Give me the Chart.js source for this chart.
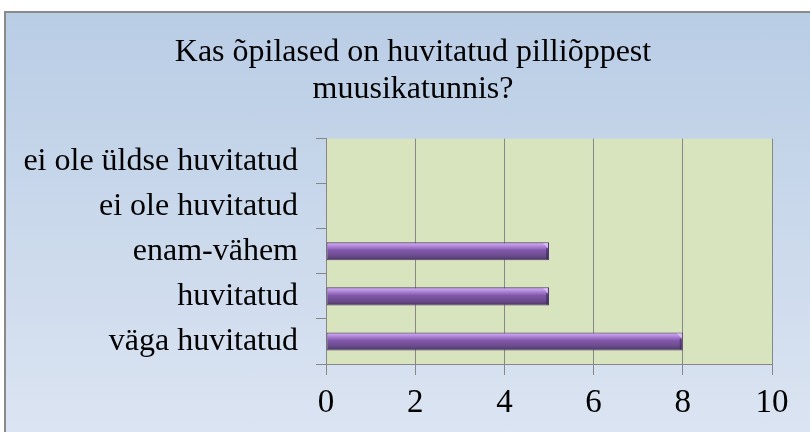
<!DOCTYPE html>
<html>
<head>
<meta charset="utf-8">
<script src="https://cdn.jsdelivr.net/npm/chart.js@4"></script>
<style>
    body { margin: 0; background: #fff; }
    #box {
        position: absolute; left: 4px; top: 11px; right: 0; bottom: 0;
        border-top: 2px solid #8a8a8a; border-left: 2px solid #8a8a8a;
        background: linear-gradient(#b9cde5, #dbe4f2);
        overflow: hidden;
    }
    canvas { display: block; }
</style>
</head>
<body>
<div id="box"><canvas id="surveyChart" width="804" height="419"></canvas></div>
<script>
const categories = ['ei ole üldse huvitatud', 'ei ole huvitatud', 'enam-vähem', 'huvitatud', 'väga huvitatud'];
const answers = [0, 0, 5, 5, 8];
const xTicks = [0, 2, 4, 6, 8, 10];
const titleLines = ['Kas õpilased on huvitatud pilliõppest', 'muusikatunnis?'];

const serif = "'Liberation Serif', 'Times New Roman', serif";
const gridGray = '#878787';

// light green plot area, painted before the grid lines
const plotBackground = {
    id: 'plotBackground',
    beforeDraw(chart) {
        const a = chart.chartArea;
        const ctx = chart.ctx;
        ctx.save();
        ctx.fillStyle = '#d7e4bd';
        ctx.fillRect(a.left, a.top, a.right - a.left, a.bottom - a.top);
        ctx.restore();
    }
};

// small bevel on the right end of every bar
const barBevel = {
    id: 'barBevel',
    afterDatasetsDraw(chart) {
        const ctx = chart.ctx;
        chart.getDatasetMeta(0).data.forEach(function (bar, i) {
            if (!answers[i]) return;
            const top = bar.y - bar.height / 2;
            const bottom = bar.y + bar.height / 2;
            ctx.save();
            ctx.fillStyle = 'rgba(225, 195, 252, 0.8)';
            ctx.beginPath();
            ctx.moveTo(bar.x - 6, top + 1);
            ctx.lineTo(bar.x - 1, top + 1);
            ctx.lineTo(bar.x - 1, top + 6);
            ctx.closePath();
            ctx.fill();
            ctx.fillStyle = 'rgba(55, 35, 85, 0.55)';
            ctx.fillRect(bar.x - 3, top + 6, 2, bottom - top - 7);
            ctx.restore();
        });
    }
};

function barGradient(c) {
    const chart = c.chart;
    const y = chart.scales.y;
    if (!y) return '#7a58a2';
    const half = (y.height / categories.length) * 0.4 / 2;
    const cy = y.getPixelForValue(c.dataIndex);
    if (!isFinite(half) || !isFinite(cy)) return '#7a58a2';
    const g = chart.ctx.createLinearGradient(0, cy - half, 0, cy + half);
    g.addColorStop(0, '#9a72c4');
    g.addColorStop(0.12, '#c49cec');
    g.addColorStop(0.28, '#a47acd');
    g.addColorStop(0.45, '#8058a9');
    g.addColorStop(0.75, '#6b4c8e');
    g.addColorStop(1, '#4a3563');
    return g;
}

new Chart(document.getElementById('surveyChart').getContext('2d'), {
    type: 'bar',
    data: {
        labels: categories,
        datasets: [{
            data: answers,
            backgroundColor: barGradient,
            borderColor: '#4f3b6b',
            borderWidth: 1,
            borderSkipped: false,
            barPercentage: 0.4,
            categoryPercentage: 1
        }]
    },
    options: {
        indexAxis: 'y',
        responsive: false,
        animation: false,
        layout: { padding: { top: 0, right: 0, bottom: 0, left: 10 } },
        plugins: {
            legend: { display: false },
            tooltip: { enabled: false },
            title: {
                display: true,
                text: titleLines,
                color: '#000',
                font: { family: serif, size: 32, weight: 'normal', lineHeight: 1.15 },
                padding: { top: 21, bottom: 31 }
            }
        },
        scales: {
            x: {
                min: 0,
                max: 10,
                afterBuildTicks(scale) {
                    scale.ticks = xTicks.map(v => ({ value: v }));
                },
                afterFit(scale) { scale.height = 68; },
                grid: { color: gridGray, tickLength: 11, drawOnChartArea: true },
                border: { display: true, color: gridGray },
                ticks: {
                    color: '#000',
                    padding: 9,
                    font: { family: serif, size: 33 }
                }
            },
            y: {
                afterFit(scale) { scale.width = 310; },
                grid: { color: gridGray, tickLength: 10, drawOnChartArea: false, offset: true },
                border: { display: true, color: gridGray },
                ticks: {
                    color: '#000',
                    padding: 18,
                    font: { family: serif, size: 32 }
                }
            },
            // empty axis that only keeps the gap on the right
            yRight: {
                position: 'right',
                afterFit(scale) { scale.width = 38; },
                grid: { display: false },
                border: { display: false },
                ticks: { display: false }
            }
        }
    },
    plugins: [plotBackground, barBevel]
});
</script>
</body>
</html>
